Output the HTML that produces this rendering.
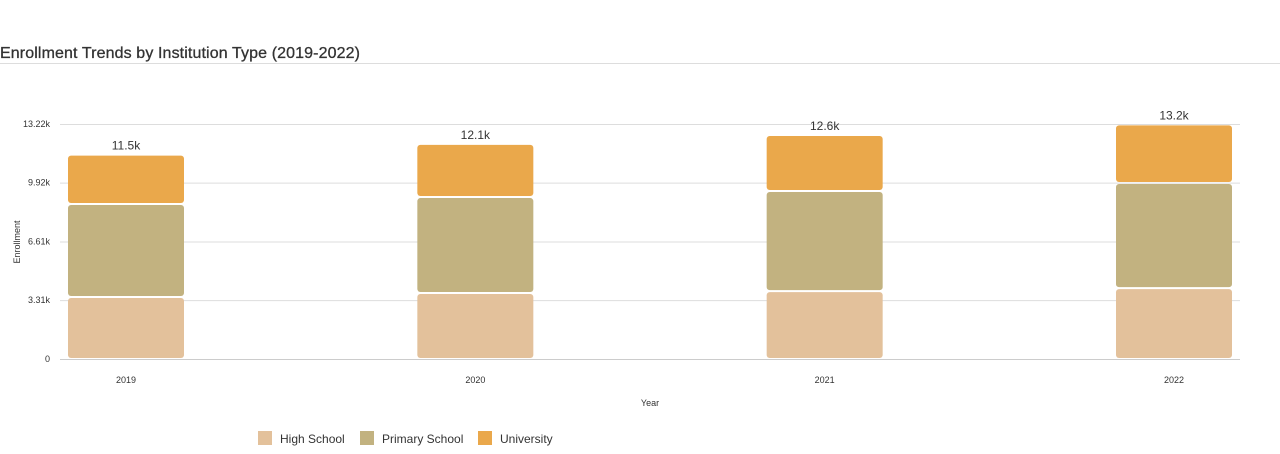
<!DOCTYPE html>
<html><head><meta charset="utf-8"><style>
body{margin:0;background:#fff;font-family:"Liberation Sans",sans-serif;}
#wrap{position:relative;width:1280px;height:454px;overflow:hidden;}
</style></head><body>
<div id="wrap">
<svg id="chart" width="1280" height="454">
<text x="0" y="58" font-size="16" fill="#333" stroke="#333" stroke-width="0.3" textLength="360">Enrollment Trends by Institution Type (2019-2022)</text>
<line x1="0" y1="63.5" x2="1280" y2="63.5" stroke="#ddd"/>
<g id="grid"></g><g id="bars"></g><g id="labels"></g>
<text x="20" y="242" font-size="9" fill="#333" text-anchor="middle" transform="rotate(-90 20 242)">Enrollment</text>
<text x="650" y="406" font-size="9" fill="#333" text-anchor="middle">Year</text>
<g>
<rect x="258" y="431" width="14" height="14" fill="#e3c19b"/>
<text x="280" y="443" font-size="12" fill="#333">High School</text>
<rect x="360" y="431" width="14" height="14" fill="#c2b280"/>
<text x="382" y="443" font-size="12" fill="#333">Primary School</text>
<rect x="478" y="431" width="14" height="14" fill="#eaa84b"/>
<text x="500" y="443" font-size="12" fill="#333">University</text>
</g>
</svg>
</div>
<script>
const years=["2019","2020","2021","2022"];
const highSchool=[3.49,3.71,3.82,3.99];
const primarySchool=[5.23,5.40,5.63,5.91];
const university=[2.78,2.99,3.15,3.30];
const totalLabels=["11.5k","12.1k","12.6k","13.2k"];
const yTicks=[0,3.31,6.61,9.92,13.22];
const yTickLabels=["0","3.31k","6.61k","9.92k","13.22k"];
const NS="http://www.w3.org/2000/svg";
const x0=60,x1=1240,y0=359,yTop=124,yMax=13.22;
const y=v=>y0-(v/yMax)*(y0-yTop);
const firstC=126,lastC=1174;
const xc=i=>firstC+(lastC-firstC)*i/(years.length-1);
const bw=116;
function mk(t,a,p){const e=document.createElementNS(NS,t);for(const k in a)e.setAttribute(k,a[k]);p.appendChild(e);return e;}
const grid=document.getElementById('grid'),bars=document.getElementById('bars'),labels=document.getElementById('labels');
yTicks.forEach((t,i)=>{
 const l=mk('line',{x1:x0,x2:x1,y1:y(t)+0.5,y2:y(t)+0.5,stroke:i==0?'#ccc':'#ddd'},grid);
 
 
 const tx=mk('text',{x:50,y:y(t)+3,'font-size':9,fill:'#333','text-anchor':'end'},grid);
 tx.textContent=yTickLabels[i];
 
 
});
const series=[[highSchool,'#e3c19b','high-school'],[primarySchool,'#c2b280','primary-school'],[university,'#eaa84b','university']];
years.forEach((yr,i)=>{
 let base=0;
 series.forEach(([arr,col,nm])=>{
  const top=base+arr[i];
  const r=mk('rect',{x:xc(i)-bw/2,y:y(top)+1,width:bw,height:Math.max(0,y(base)-y(top)-2),rx:3,fill:col},bars);
  
  
  base=top;
 });
 const t=mk('text',{x:xc(i),y:y(base)-5,'font-size':12,fill:'#333','text-anchor':'middle'},labels);
 t.textContent=totalLabels[i];
 
 
 const xl=mk('text',{x:xc(i),y:383,'font-size':9,fill:'#333','text-anchor':'middle'},labels);
 xl.textContent=yr;
 
 
});
</script>
</body></html>
